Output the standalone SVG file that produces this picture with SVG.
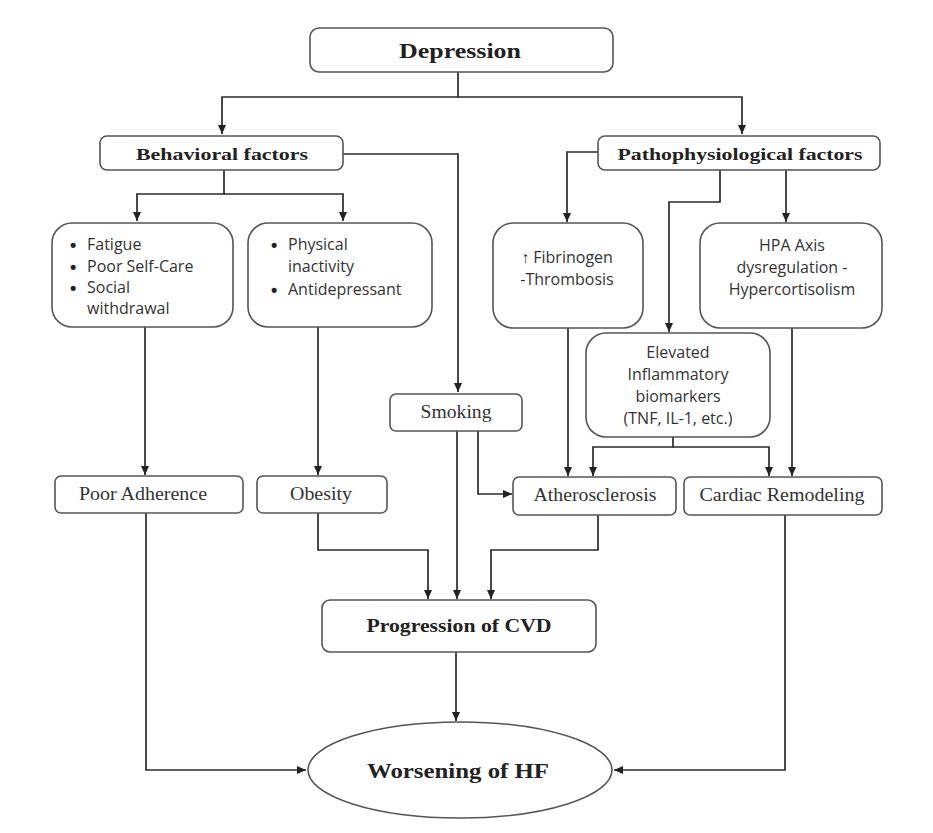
<svg xmlns="http://www.w3.org/2000/svg" width="933" height="833" viewBox="0 0 933 833">
<defs>
<marker id="ah" markerWidth="10" markerHeight="10" refX="9" refY="5" orient="auto" markerUnits="userSpaceOnUse">
<path d="M0,1 L9,5 L0,9 Z" fill="#222"/>
</marker>
<style>
.box{fill:#fff;stroke:#555;stroke-width:1.6}
.ln{fill:none;stroke:#2a2a2a;stroke-width:1.7}
.hb{font-family:"Liberation Serif",serif;font-weight:bold;fill:#222;text-anchor:middle}
.sr{font-family:"Liberation Serif",serif;fill:#333;text-anchor:middle;font-size:18px}
.ss{font-family:"Open Sans","Liberation Sans",sans-serif;fill:#333;font-size:16px}
.bu{font-family:"Liberation Sans",sans-serif;fill:#222;font-size:18px;font-weight:bold}
.sc{text-anchor:middle}
</style>
</defs>
<rect width="933" height="833" fill="#fff"/>
<g id="connectors">
<path class="ln" d="M458,72 V97 H222 V134" marker-end="url(#ah)"/>
<path class="ln" d="M458,97 H742 V134" marker-end="url(#ah)"/>
<path class="ln" d="M343,154 H458 V392" marker-end="url(#ah)"/>
<path class="ln" d="M224,170 V194 H137 V221" marker-end="url(#ah)"/>
<path class="ln" d="M224,194 H343 V221" marker-end="url(#ah)"/>
<path class="ln" d="M145,327 V475" marker-end="url(#ah)"/>
<path class="ln" d="M318,326 V475" marker-end="url(#ah)"/>
<path class="ln" d="M598,152 H567 V222" marker-end="url(#ah)"/>
<path class="ln" d="M720,170 V202 H669 V332" marker-end="url(#ah)"/>
<path class="ln" d="M786,170 V222" marker-end="url(#ah)"/>
<path class="ln" d="M568,328 V476" marker-end="url(#ah)"/>
<path class="ln" d="M792,328 V476" marker-end="url(#ah)"/>
<path class="ln" d="M673,437 V447 H593 V476" marker-end="url(#ah)"/>
<path class="ln" d="M673,447 H769 V476" marker-end="url(#ah)"/>
<path class="ln" d="M457,431 V599" marker-end="url(#ah)"/>
<path class="ln" d="M478,431 V494 H512" marker-end="url(#ah)"/>
<path class="ln" d="M318,513 V550 H428 V599" marker-end="url(#ah)"/>
<path class="ln" d="M598,515 V550 H491 V599" marker-end="url(#ah)"/>
<path class="ln" d="M456,652 V721" marker-end="url(#ah)"/>
<path class="ln" d="M146,513 V770 H306" marker-end="url(#ah)"/>
<path class="ln" d="M785,515 V770 H614" marker-end="url(#ah)"/>
</g>
<g id="depression">
<rect class="box" x="310" y="28" width="303" height="44" rx="9"/>
<text class="hb" x="460" y="58" font-size="21" textLength="122" lengthAdjust="spacingAndGlyphs">Depression</text>
</g>
<g id="behavioral">
<rect class="box" x="100" y="136" width="243" height="34" rx="7"/>
<text class="hb" x="222" y="160" font-size="17" textLength="172" lengthAdjust="spacingAndGlyphs">Behavioral factors</text>
</g>
<g id="patho">
<rect class="box" x="598" y="136" width="282" height="34" rx="7"/>
<text class="hb" x="740" y="160" font-size="17" textLength="245" lengthAdjust="spacingAndGlyphs">Pathophysiological factors</text>
</g>
<g id="fatigue">
<rect class="box" x="52" y="223" width="181" height="104" rx="20"/>
<g class="ss">
<text class="bu" x="70" y="251">•</text><text x="87" y="250">Fatigue</text>
<text class="bu" x="70" y="273">•</text><text x="87" y="272">Poor Self-Care</text>
<text class="bu" x="70" y="294">•</text><text x="87" y="293">Social</text>
<text x="87" y="314">withdrawal</text>
</g>
</g>
<g id="physical">
<rect class="box" x="248" y="223" width="184" height="104" rx="20"/>
<g class="ss">
<text class="bu" x="271" y="251">•</text><text x="288" y="250">Physical</text>
<text x="288" y="272">inactivity</text>
<text class="bu" x="271" y="296">•</text><text x="288" y="295">Antidepressant</text>
</g>
</g>
<g id="fibrinogen">
<rect class="box" x="493" y="223" width="150" height="105" rx="20"/>
<text class="ss sc" x="567" y="263">↑ Fibrinogen</text>
<text class="ss sc" x="567" y="285">-Thrombosis</text>
</g>
<g id="hpa">
<rect class="box" x="700" y="223" width="182" height="105" rx="20"/>
<text class="ss sc" x="792" y="251">HPA Axis</text>
<text class="ss sc" x="792" y="273">dysregulation -</text>
<text class="ss sc" x="792" y="295">Hypercortisolism</text>
</g>
<g id="elevated">
<rect class="box" x="586" y="333" width="184" height="104" rx="20"/>
<text class="ss sc" x="678" y="358">Elevated</text>
<text class="ss sc" x="678" y="380">Inflammatory</text>
<text class="ss sc" x="678" y="402">biomarkers</text>
<text class="ss sc" x="678" y="424" font-size="15">(TNF, IL-1, etc.)</text>
</g>
<g id="smoking">
<rect class="box" x="390" y="394" width="132" height="37" rx="6"/>
<text class="sr" x="456" y="418" textLength="71" lengthAdjust="spacingAndGlyphs">Smoking</text>
</g>
<g id="adherence">
<rect class="box" x="55" y="476" width="188" height="37" rx="6"/>
<text class="sr" x="143" y="500" textLength="128" lengthAdjust="spacingAndGlyphs">Poor Adherence</text>
</g>
<g id="obesity">
<rect class="box" x="257" y="476" width="130" height="37" rx="6"/>
<text class="sr" x="321" y="500" textLength="62" lengthAdjust="spacingAndGlyphs">Obesity</text>
</g>
<g id="athero">
<rect class="box" x="513" y="477" width="163" height="38" rx="6"/>
<text class="sr" x="595" y="501" textLength="123" lengthAdjust="spacingAndGlyphs">Atherosclerosis</text>
</g>
<g id="cardiac">
<rect class="box" x="684" y="477" width="198" height="38" rx="6"/>
<text class="sr" x="782" y="501" textLength="165" lengthAdjust="spacingAndGlyphs">Cardiac Remodeling</text>
</g>
<g id="progression">
<rect class="box" x="322" y="600" width="274" height="52" rx="8"/>
<text class="hb" x="459" y="632" font-size="19" textLength="185" lengthAdjust="spacingAndGlyphs">Progression of CVD</text>
</g>
<g id="worsening">
<ellipse class="box" cx="460" cy="770" rx="152" ry="48"/>
<text class="hb" x="458" y="778" font-size="22" textLength="182" lengthAdjust="spacingAndGlyphs">Worsening of HF</text>
</g>
</svg>
